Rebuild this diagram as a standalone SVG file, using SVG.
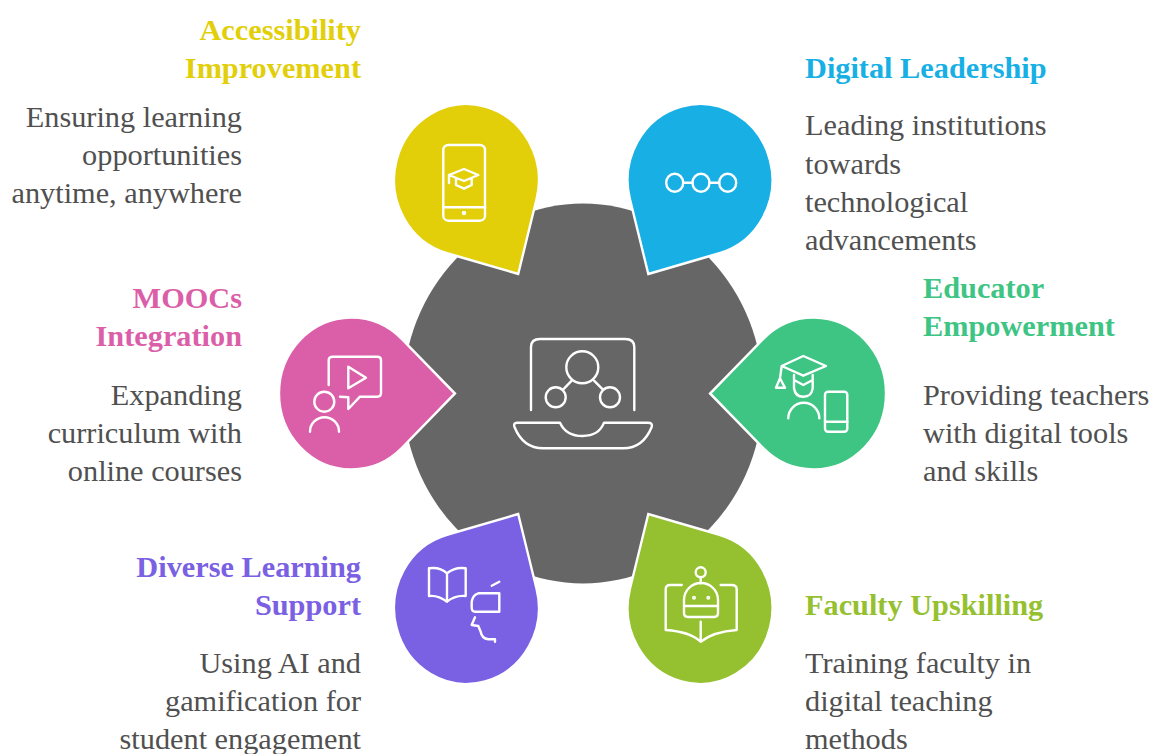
<svg xmlns="http://www.w3.org/2000/svg" width="1153" height="754" viewBox="0 0 1153 754">
<style>
text{font-family:"Liberation Serif","Times New Roman",serif;font-size:30.3px;fill:#505050}
.h{font-weight:700}
.e{text-anchor:end}
.ic{fill:none;stroke:#fff;stroke-width:2.4;stroke-linecap:round;stroke-linejoin:round}
.tear{stroke:#fff;stroke-width:2.5;stroke-linejoin:miter}
</style>
<defs>
<path id="tear" d="M108.5,0 L53.2,-54.2 A76,76 0 1 0 53.2,54.2 Z"/>
</defs>
<rect width="1153" height="754" fill="#fff"/>
<g id="hub">
<ellipse cx="583" cy="393.5" rx="180" ry="190" fill="#666"/>
<g class="ic">
<path d="M531,410V347Q531,339 540,339H625Q634.3,339 634.3,347V410"/>
<circle cx="582.3" cy="367.3" r="16"/>
<circle cx="555.7" cy="397.3" r="10"/>
<circle cx="610" cy="397.3" r="10"/>
<path d="M563.3,389.3L571.7,380.7M594,380.7L602.7,389.3"/>
<path d="M517,422.7H560Q566,436 582.5,436Q599,436 604,422.7H648Q653,422.7 651.7,427Q643,448.3 623.3,448.3H543.3Q523,448.3 514.5,427Q513,422.7 517,422.7Z"/>
</g>
</g>
<g id="accessibility">
<use href="#tear" class="tear" fill="#e2cf09" transform="translate(466.5,180) scale(.953,1) rotate(60)"/>
<g class="ic">
<rect x="443.3" y="145" width="41.7" height="75.7" rx="5"/>
<path d="M443.3,207.3H485"/>
<circle cx="464" cy="213" r="1"/>
<path d="M464,169L478.3,175L464,181L449,175ZM449,175V183M456,178.3V185L464,188.7L471.7,185V178.3"/>
</g>
<text class="h e" x="361" y="39.500" style="fill:#e2cf09">Accessibility</text>
<text class="h e" x="361" y="77.500" style="fill:#e2cf09">Improvement</text>
<text class="e" x="242" y="126.500">Ensuring learning</text>
<text class="e" x="242" y="164.500">opportunities</text>
<text class="e" x="242" y="202.500">anytime, anywhere</text>
</g>
<g id="digital-leadership">
<use href="#tear" class="tear" fill="#18b0e4" transform="translate(700,180) scale(.953,1) rotate(120)"/>
<g class="ic">
<ellipse cx="674.7" cy="182.7" rx="8.500" ry="9"/>
<ellipse cx="701" cy="182.7" rx="8.500" ry="9"/>
<ellipse cx="727.7" cy="182.7" rx="8.500" ry="9"/>
<path d="M683.2,182.7H692.500M709.500,182.7H719.2"/>
</g>
<text class="h" x="805" y="77.500" style="fill:#18b0e4">Digital Leadership</text>
<text x="805" y="134.500">Leading institutions</text>
<text x="805" y="173.500">towards</text>
<text x="805" y="211.500">technological</text>
<text x="805" y="249.500">advancements</text>
</g>
<g id="moocs">
<use href="#tear" class="tear" fill="#db5fa8" transform="translate(351.5,393.5) scale(.953,1)"/>
<g class="ic">
<path d="M328.7,385V360Q328.7,356.7 333,356.7H377.3Q381,356.7 381,360V393Q381,396.7 377.3,396.7H360L348.3,409V397.3L340,396.7"/>
<path d="M348.3,366.7L366,377.7L348.3,388.3Z"/>
<circle cx="324.3" cy="401.7" r="10"/>
<path d="M310,431.7A14.500,14.500 0 0 1 339,431.7"/>
</g>
<text class="h e" x="242" y="307.500" style="fill:#db5fa8">MOOCs</text>
<text class="h e" x="242" y="345.500" style="fill:#db5fa8">Integration</text>
<text class="e" x="242" y="404.500">Expanding</text>
<text class="e" x="242" y="442.500">curriculum with</text>
<text class="e" x="242" y="480.500">online courses</text>
</g>
<g id="educator">
<use href="#tear" class="tear" fill="#3ec483" transform="translate(813.5,393.5) scale(.953,1) rotate(180)"/>
<g class="ic">
<path d="M803.3,356L826,366L803.3,375.7L781.7,366ZM781.7,366L780,378.3M780,378.3L776,387.7H785Z"/>
<path d="M794,375V388Q795,396.7 803.3,396.7Q812,396.7 812.7,388V375M794,380L803.3,385L812.7,380"/>
<path d="M788.3,418.3A15.500,15.500 0 0 1 819.3,418.3"/>
<rect x="825" y="391.7" width="22.3" height="40" rx="3"/>
<path d="M825,421.7H847.3"/>
</g>
<text class="h" x="923" y="297.500" style="fill:#3ec483">Educator</text>
<text class="h" x="923" y="335.500" style="fill:#3ec483">Empowerment</text>
<text x="923" y="404.500">Providing teachers</text>
<text x="923" y="442.500">with digital tools</text>
<text x="923" y="480.500">and skills</text>
</g>
<g id="diverse">
<use href="#tear" class="tear" fill="#7a60e2" transform="translate(466.5,608) scale(.953,1) rotate(-60)"/>
<g class="ic">
<path d="M429,568.3V596Q438.3,595 447,601.7Q455,595 465.7,596V568.3Q455,566.7 447,573.3Q440,566.7 429,568.3ZM447,573.3V601.7"/>
<path d="M499.3,581.7L491.7,585.7M499.3,593.3V611.7H475Q471.7,611.7 471.7,607.3V601.7Q472.7,595 478.3,593.3Z"/>
<path d="M475,617.3L471.7,625L478.3,626L480.7,631.7Q481.7,638.3 488.3,639.3H495V641.7"/>
</g>
<text class="h e" x="361" y="576.500" style="fill:#7a60e2">Diverse Learning</text>
<text class="h e" x="361" y="614.500" style="fill:#7a60e2">Support</text>
<text class="e" x="361" y="672.500">Using AI and</text>
<text class="e" x="361" y="710.500">gamification for</text>
<text class="e" x="361" y="748.500">student engagement</text>
</g>
<g id="faculty">
<use href="#tear" class="tear" fill="#95c130" transform="translate(700,608) scale(.953,1) rotate(-120)"/>
<g class="ic">
<circle cx="700.7" cy="572.3" r="5"/>
<path d="M700.7,577.3V583.3"/>
<path d="M684,600A17,17 0 0 1 718,600V613Q718,617 714,617H688Q684,617 684,613ZM684,606H718"/>
<path d="M681.7,585H670Q665.7,585 665.7,589.3V630Q690,631.7 700.7,641.7Q713.3,631.7 736.7,630V589.3Q736.7,585 731.7,585H720.7M700.7,621.7V640"/>
<circle cx="694" cy="597.7" r=".8"/>
<circle cx="708.3" cy="597.7" r=".8"/>
</g>
<text class="h" x="805" y="614.500" style="fill:#95c130">Faculty Upskilling</text>
<text x="805" y="672.500">Training faculty in</text>
<text x="805" y="710.500">digital teaching</text>
<text x="805" y="748.500">methods</text>
</g>
</svg>
